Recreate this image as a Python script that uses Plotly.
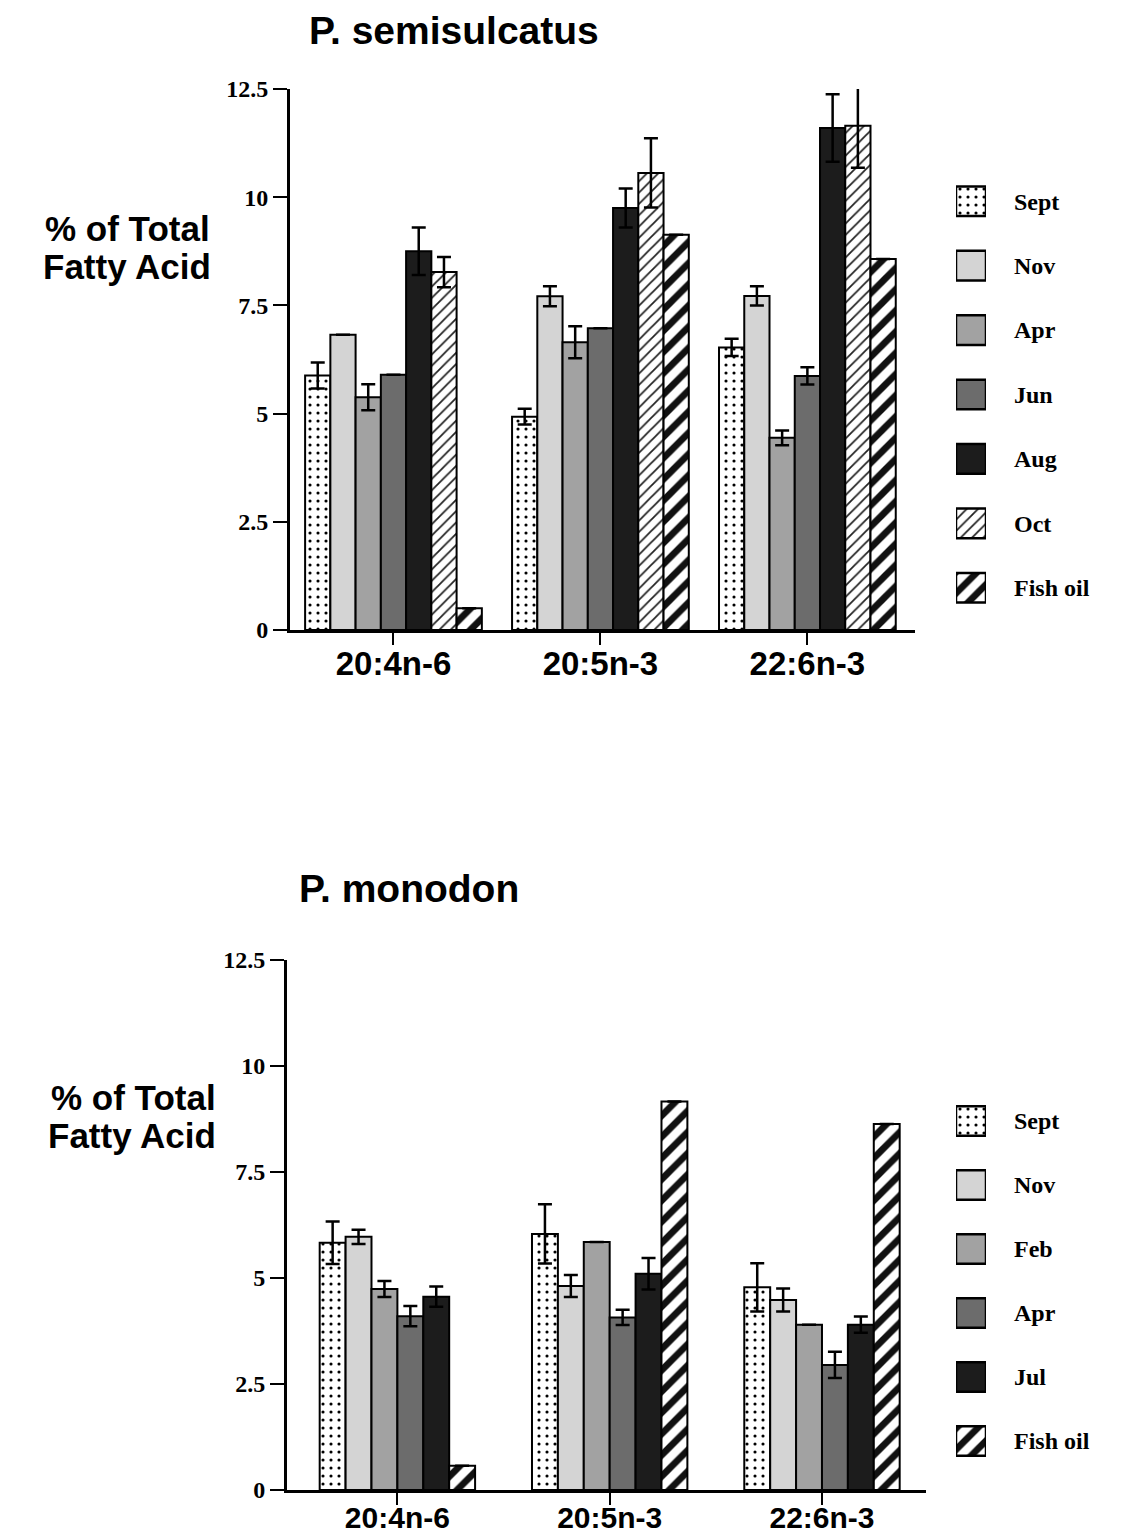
import plotly.graph_objects as go

# ---------------- data ----------------
categories = ["20:4n-6", "20:5n-3", "22:6n-3"]

# P. semisulcatus
top_series = ["Sept", "Nov", "Apr", "Jun", "Aug", "Oct", "Fish oil"]
top_sept = [5.88, 4.93, 6.53]
top_nov = [6.82, 7.71, 7.72]
top_apr = [5.38, 6.65, 4.44]
top_jun = [5.90, 6.97, 5.87]
top_aug = [8.75, 9.75, 11.60]
top_oct = [8.27, 10.56, 11.65]
top_fish = [0.50, 9.13, 8.57]
top_values = [top_sept, top_nov, top_apr, top_jun, top_aug, top_oct, top_fish]

top_sept_err = [0.30, 0.18, 0.20]
top_nov_err = [None, 0.23, 0.22]
top_apr_err = [0.30, 0.37, 0.17]
top_jun_err = [None, None, 0.20]
top_aug_err = [0.55, 0.45, 0.78]
top_oct_err = [0.35, 0.80, 0.97]
top_fish_err = [None, None, None]
top_errors = [top_sept_err, top_nov_err, top_apr_err, top_jun_err,
              top_aug_err, top_oct_err, top_fish_err]

# P. monodon
bot_series = ["Sept", "Nov", "Feb", "Apr", "Jul", "Fish oil"]
bot_sept = [5.83, 6.04, 4.78]
bot_nov = [5.97, 4.81, 4.48]
bot_feb = [4.74, 5.85, 3.90]
bot_apr = [4.10, 4.07, 2.95]
bot_jul = [4.56, 5.10, 3.90]
bot_fish = [0.57, 9.16, 8.63]
bot_values = [bot_sept, bot_nov, bot_feb, bot_apr, bot_jul, bot_fish]

bot_sept_err = [0.50, 0.70, 0.57]
bot_nov_err = [0.17, 0.26, 0.27]
bot_feb_err = [0.19, None, None]
bot_apr_err = [0.24, 0.18, 0.31]
bot_jul_err = [0.24, 0.37, 0.19]
bot_fish_err = [None, None, None]
bot_errors = [bot_sept_err, bot_nov_err, bot_feb_err, bot_apr_err,
              bot_jul_err, bot_fish_err]

y_ticks = [0, 2.5, 5, 7.5, 10, 12.5]
y_tick_labels = ["0", "2.5", "5", "7.5", "10", "12.5"]

# ---------------- styles ----------------
SANS = "Liberation Sans, Arial, sans-serif"
SERIF = "Liberation Serif, Times New Roman, serif"

dots = dict(color="white", pattern=dict(shape=".", fgcolor="black", bgcolor="white",
                                        size=8, solidity=0.12, fillmode="replace"))
light = dict(color="#d4d4d4")
mid = dict(color="#a2a2a2")
dark = dict(color="#6c6c6c")
black = dict(color="#1c1c1c")
hatch_fine = dict(color="white", pattern=dict(shape="/", fgcolor="#222222", bgcolor="white",
                                              size=8, solidity=0.22, fillmode="replace"))
stripes = dict(color="white", pattern=dict(shape="/", fgcolor="#111111", bgcolor="white",
                                           size=15, solidity=0.45, fillmode="replace"))

top_styles = [dots, light, mid, dark, black, hatch_fine, stripes]
bot_styles = [dots, light, mid, dark, black, stripes]

BAR_W = 0.122
W, H = 1127, 1539


def px_x(px):
    return px / W


def px_y(py):
    return 1 - py / H


fig = go.Figure()


def add_group(series, values, errors, styles, xa, ya):
    n = len(series)
    for i, name in enumerate(series):
        marker = dict(styles[i])
        marker["line"] = dict(color="black", width=2)
        fig.add_trace(go.Bar(
            x=categories, y=values[i], name=name,
            width=BAR_W, offset=(i - n / 2.0) * BAR_W,
            marker=marker,
            error_y=dict(type="data", array=errors[i], symmetric=True,
                         color="black", thickness=2.5, width=7),
            xaxis=xa, yaxis=ya, showlegend=False,
        ))


def add_legend(series, styles, xa, ya):
    # legend swatches drawn as small bars on their own axis, labels as tick labels
    swatch_len = [1]
    for name, style in zip(series, styles):
        marker = dict(style)
        marker["line"] = dict(color="black", width=2.5)
        fig.add_trace(go.Bar(
            y=[name], x=swatch_len, orientation="h", width=0.46,
            marker=marker, name=name,
            xaxis=xa, yaxis=ya, showlegend=False, hoverinfo="skip",
        ))


add_group(top_series, top_values, top_errors, top_styles, "x", "y")
add_group(bot_series, bot_values, bot_errors, bot_styles, "x2", "y2")
add_legend(top_series, top_styles, "x3", "y3")
add_legend(bot_series, bot_styles, "x4", "y4")

xaxis_common = dict(
    type="category", showline=True, linewidth=3, linecolor="black",
    ticks="outside", ticklen=12, tickwidth=2, tickcolor="black",
    ticklabelstandoff=-10,
    tickfont=dict(family=SANS, size=33, color="black", weight="bold"),
    showgrid=False, zeroline=False, fixedrange=True, automargin=False,
)
yaxis_common = dict(
    range=[0, 12.5], tickvals=y_ticks, ticktext=y_tick_labels,
    showline=True, linewidth=3, linecolor="black",
    ticks="outside", ticklen=14, tickwidth=2, tickcolor="black",
    tickfont=dict(family=SERIF, size=24, color="black", weight="bold"),
    showgrid=False, zeroline=False, fixedrange=True, automargin=False,
)
leg_x_common = dict(range=[0, 1], visible=False, fixedrange=True, automargin=False,
                    domain=[px_x(956), px_x(986)])
leg_y_common = dict(type="category", side="right", showline=False, showgrid=False,
                    zeroline=False, ticks="", ticklabelstandoff=27,
                    tickfont=dict(family=SERIF, size=24, color="black", weight="bold"),
                    fixedrange=True, automargin=False)


def title_ann(text, cx, cy, size):
    return dict(text=text, x=px_x(cx), y=px_y(cy), xref="paper", yref="paper",
                xanchor="center", yanchor="middle", showarrow=False,
                font=dict(family=SANS, size=size, color="black", weight="bold"))


fig.update_layout(
    width=W, height=H, margin=dict(l=0, r=0, t=0, b=0, pad=0),
    paper_bgcolor="white", plot_bgcolor="white",
    barmode="overlay", showlegend=False,
    xaxis=dict(xaxis_common, domain=[px_x(290), px_x(915)], range=[-0.5, 2.52], anchor="y"),
    yaxis=dict(yaxis_common, domain=[px_y(630), px_y(89)], anchor="x"),
    xaxis2=dict(xaxis_common, domain=[px_x(287), px_x(926)], range=[-0.52, 2.49], anchor="y2",
                ticklabelstandoff=-13,
                tickfont=dict(family=SANS, size=30, color="black", weight="bold")),
    yaxis2=dict(yaxis_common, domain=[px_y(1490), px_y(960)], anchor="x2"),
    xaxis3=dict(leg_x_common, anchor="y3"),
    yaxis3=dict(leg_y_common, anchor="x3", domain=[px_y(620), px_y(169)],
                range=[len(top_series) - 0.5, -0.5]),
    xaxis4=dict(leg_x_common, anchor="y4"),
    yaxis4=dict(leg_y_common, anchor="x4", domain=[px_y(1473), px_y(1089)],
                range=[len(bot_series) - 0.5, -0.5]),
    annotations=[
        title_ann("P. semisulcatus", 454, 30, 39),
        title_ann("P. monodon", 409, 888, 39),
        title_ann("% of Total", 127, 228, 35),
        title_ann("Fatty Acid", 127, 266, 35),
        title_ann("% of Total", 133, 1097, 35),
        title_ann("Fatty Acid", 132, 1135, 35),
    ],
)

fig.write_html("out.html")
